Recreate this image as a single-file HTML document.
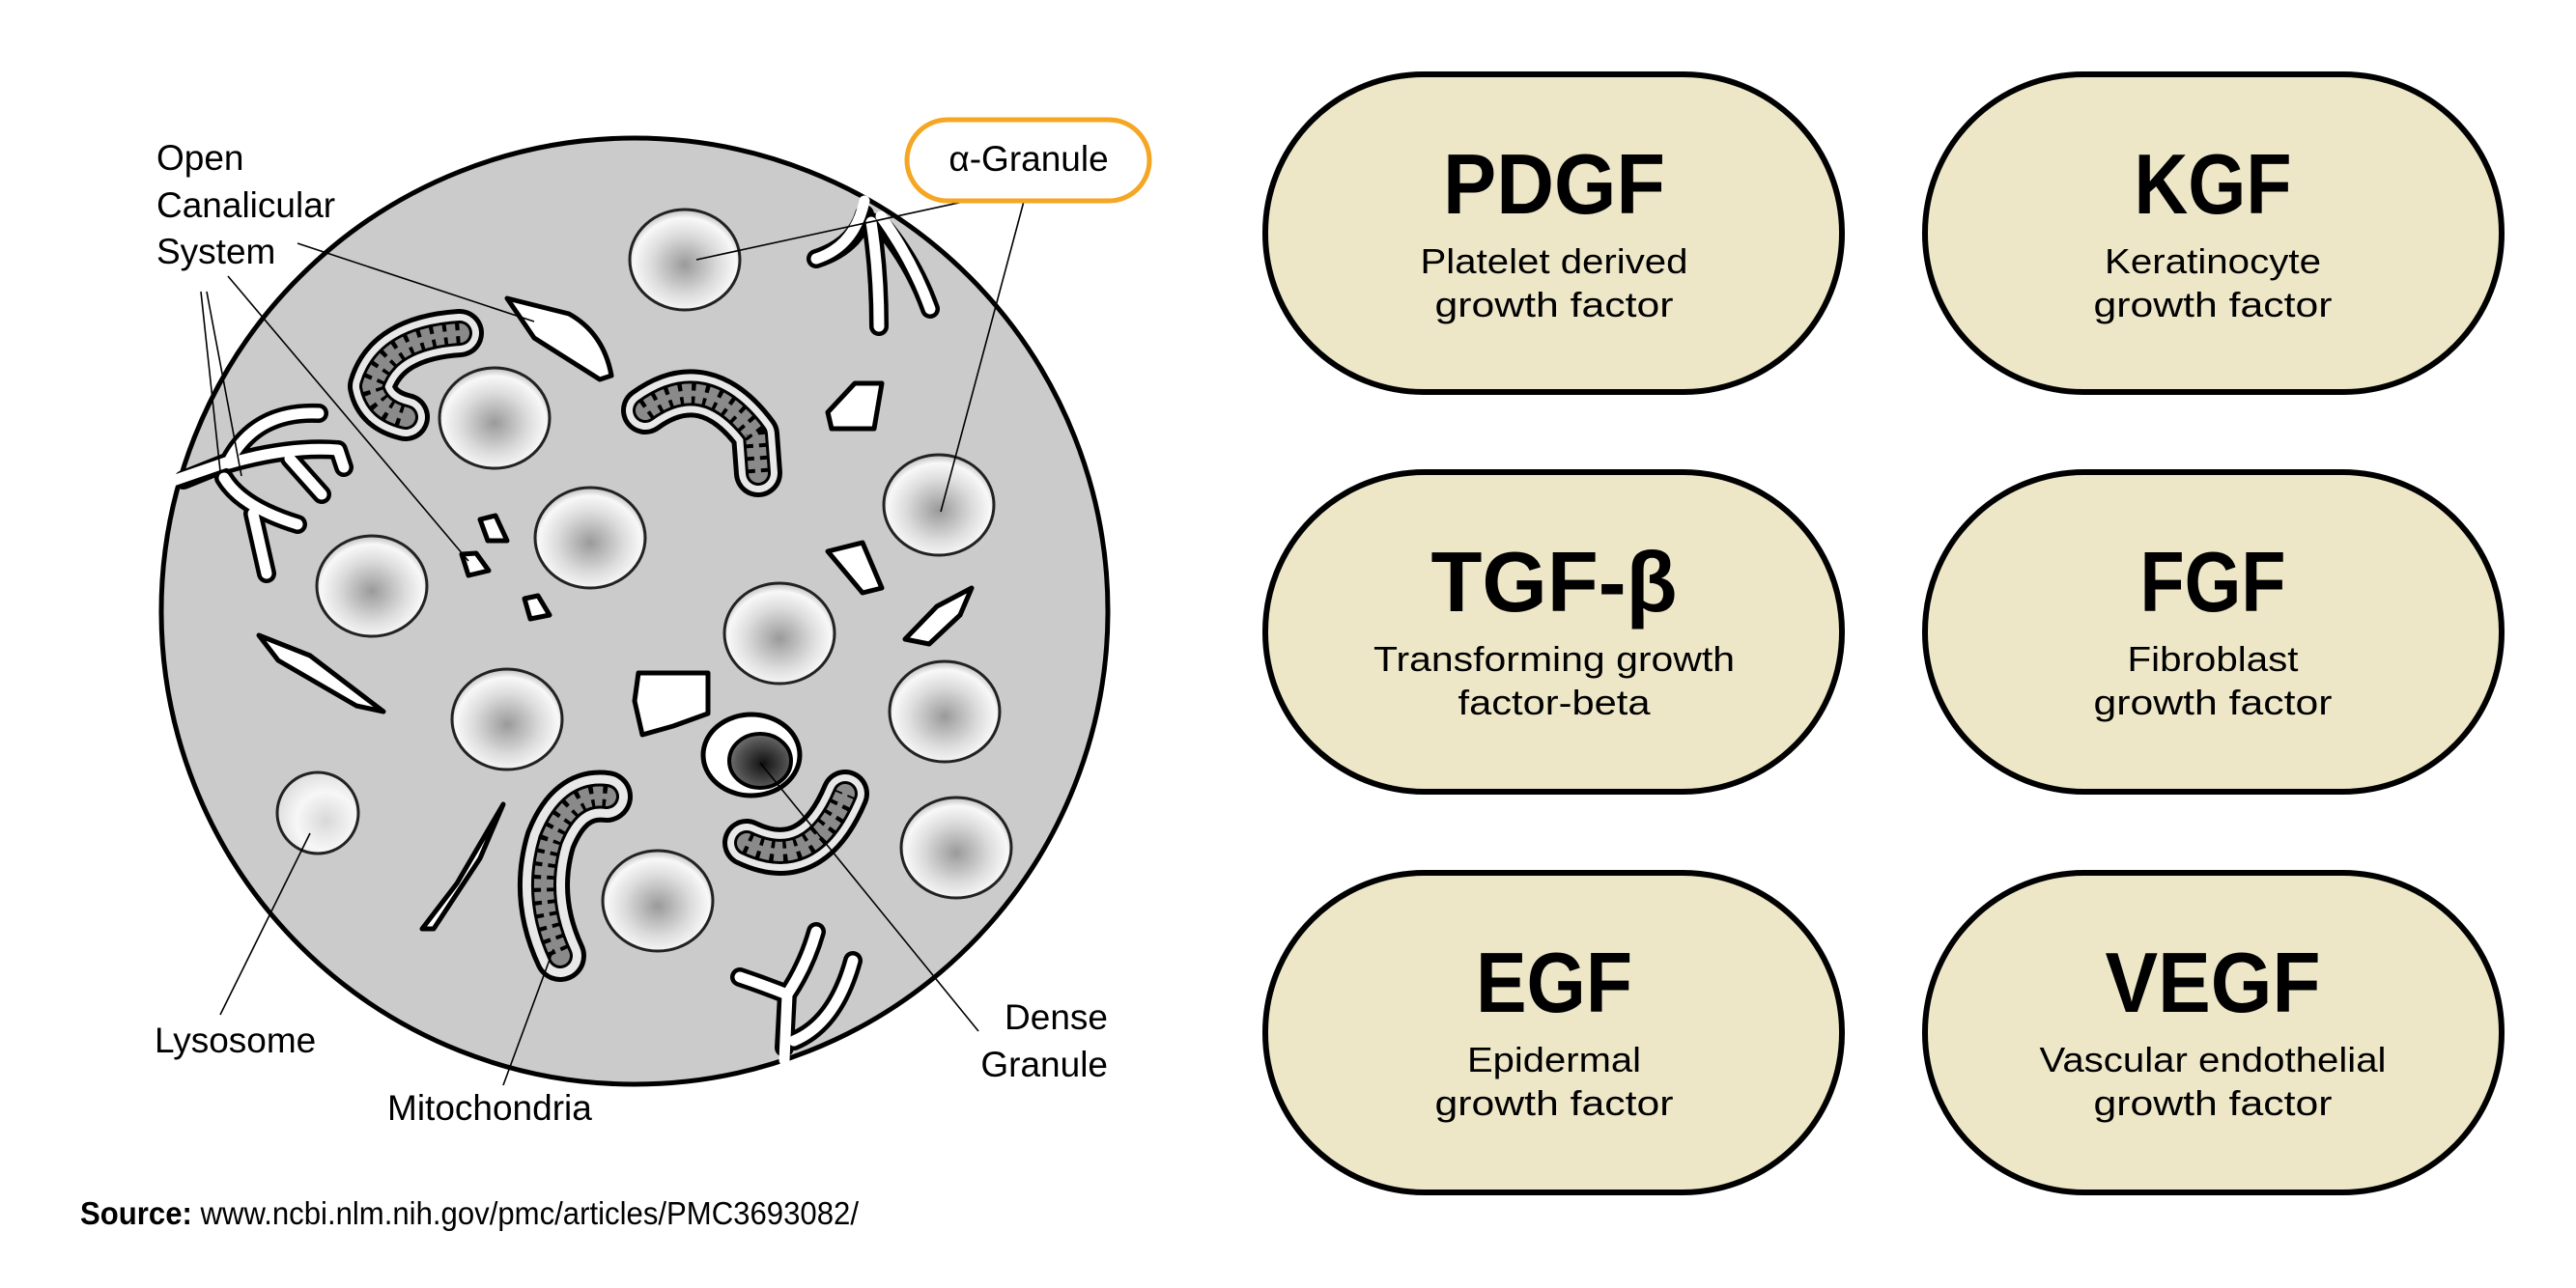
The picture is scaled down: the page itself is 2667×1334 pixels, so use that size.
<!DOCTYPE html>
<html><head><meta charset="utf-8"><style>
html,body{margin:0;padding:0;background:#fff;}
svg{display:block;}
.lab{font-family:"Liberation Sans",sans-serif;font-size:37px;fill:#000;}
.ac{font-family:"Liberation Sans",sans-serif;font-weight:bold;font-size:88px;fill:#000;text-anchor:middle;}
.sub{font-family:"Liberation Sans",sans-serif;font-size:36px;fill:#000;text-anchor:middle;}
</style></head><body>
<svg width="2667" height="1334" viewBox="0 0 2667 1334" xmlns="http://www.w3.org/2000/svg">
<defs>
<radialGradient id="g" cx="0.5" cy="0.55" r="0.55">
<stop offset="0" stop-color="#9a9a9a"/><stop offset="0.55" stop-color="#dcdcdc"/><stop offset="0.85" stop-color="#f8f8f8"/><stop offset="1" stop-color="#bdbdbd"/>
</radialGradient>
<radialGradient id="ly" cx="0.6" cy="0.6" r="0.6">
<stop offset="0" stop-color="#d8d8d8"/><stop offset="0.6" stop-color="#f7f7f7"/><stop offset="1" stop-color="#e0e0e0"/>
</radialGradient>
<radialGradient id="dk" cx="0.55" cy="0.55" r="0.6">
<stop offset="0" stop-color="#111"/><stop offset="0.7" stop-color="#555"/><stop offset="1" stop-color="#777"/>
</radialGradient>
</defs>
<circle cx="657" cy="633" r="490" fill="#cbcbcb" stroke="#000" stroke-width="5"/>

<!-- canalicular branches -->
<g fill="none" stroke-linecap="round" stroke-linejoin="round">
<g stroke="#000" stroke-width="20">
<path d="M895,222 Q885,255 845,268"/><path d="M902,230 Q910,280 910,338"/><path d="M912,232 Q945,270 963,320"/>
<path d="M190,497 L237,478 Q265,425 330,428"/><path d="M237,480 Q300,462 350,466 L356,484"/><path d="M300,475 L333,512"/><path d="M232,495 Q250,525 308,543"/><path d="M262,532 L276,594"/>
<path d="M812,1085 L815,1030 Q790,1020 766,1012"/><path d="M815,1030 Q835,1000 845,965"/><path d="M822,1078 Q865,1060 883,995"/>
</g>
<g stroke="#fff" stroke-width="11">
<path d="M895,208 Q885,255 845,268"/><path d="M902,230 Q910,280 910,338"/><path d="M912,224 Q945,270 963,320"/>
<path d="M176,499 L237,478 Q265,425 330,428"/><path d="M237,480 Q300,462 350,466 L356,484"/><path d="M300,475 L333,512"/><path d="M232,495 Q250,525 308,543"/><path d="M262,532 L276,594"/>
<path d="M812,1098 L815,1030 Q790,1020 766,1012"/><path d="M815,1030 Q835,1000 845,965"/><path d="M822,1078 Q865,1060 883,995"/>
</g>
</g>

<!-- vacuoles -->
<g fill="#fff" stroke="#000" stroke-width="5" stroke-linejoin="round">
<path d="M525,309 L589,325 Q625,345 633,389 L621,393 L553,350 Z"/>
<path d="M857,427 L885,397 L913,397 L905,444 L861,444 Z"/>
<path d="M497,538 L513,534 L525,560 L505,560 Z"/>
<path d="M478,574 L493,573 L506,591 L485,596 Z"/>
<path d="M543,620 L557,617 L569,637 L549,641 Z"/>
<path d="M857,571 L893,562 L913,609 L893,614 Z"/>
<path d="M937,662 L970,628 L1006,609 L994,637 L962,667 Z"/>
<path d="M268,658 L321,679 L397,737 L369,731 L288,684 Z"/>
<path d="M661,697 L733,697 L733,739 L697,752 L665,761 L657,726 Z"/>
<path d="M521,833 L473,915 L437,962 L449,962 L497,889 Z"/>
</g>

<!-- mitochondria -->
<g fill="none" stroke-linejoin="round">
<g stroke="#000" stroke-linecap="round">
<path d="M476,345 Q400,350 385,400 Q390,425 420,432" stroke-width="50"/>
<path d="M668,425 Q730,380 782,450 L785,490" stroke-width="50"/>
<path d="M628,825 Q590,820 570,870 Q552,930 580,990" stroke-width="54"/>
<path d="M773,873 Q840,905 875,822" stroke-width="50"/>
</g>
<g stroke="#e8e8e8" stroke-linecap="round">
<path d="M476,345 Q400,350 385,400 Q390,425 420,432" stroke-width="40"/>
<path d="M668,425 Q730,380 782,450 L785,490" stroke-width="40"/>
<path d="M628,825 Q590,820 570,870 Q552,930 580,990" stroke-width="44"/>
<path d="M773,873 Q840,905 875,822" stroke-width="40"/>
</g>
<g stroke="#000" stroke-width="26" stroke-linecap="round">
<path d="M476,345 Q400,350 385,400 Q390,425 420,432"/>
<path d="M668,425 Q730,380 782,450 L785,490"/>
<path d="M628,825 Q590,820 570,870 Q552,930 580,990"/>
<path d="M773,873 Q840,905 875,822"/>
</g>
<g stroke="#8a8a8a" stroke-width="20" stroke-linecap="round">
<path d="M476,345 Q400,350 385,400 Q390,425 420,432"/>
<path d="M668,425 Q730,380 782,450 L785,490"/>
<path d="M628,825 Q590,820 570,870 Q552,930 580,990"/>
<path d="M773,873 Q840,905 875,822"/>
</g>
<g stroke="#000" stroke-width="22" stroke-dasharray="4 9" stroke-linecap="butt">
<path d="M476,345 Q400,350 385,400 Q390,425 420,432"/>
<path d="M668,425 Q730,380 782,450 L785,490"/>
<path d="M628,825 Q590,820 570,870 Q552,930 580,990"/>
<path d="M773,873 Q840,905 875,822"/>
</g>
<g stroke="#8a8a8a" stroke-width="6" stroke-linecap="round">
<path d="M476,345 Q400,350 385,400 Q390,425 420,432"/>
<path d="M668,425 Q730,380 782,450 L785,490"/>
<path d="M628,825 Q590,820 570,870 Q552,930 580,990"/>
<path d="M773,873 Q840,905 875,822"/>
</g>
</g>

<!-- granules -->
<g fill="url(#g)" stroke="#222" stroke-width="3">
<ellipse cx="709" cy="269" rx="57" ry="52"/>
<ellipse cx="512" cy="433" rx="57" ry="52"/>
<ellipse cx="611" cy="557" rx="57" ry="52"/>
<ellipse cx="385" cy="607" rx="57" ry="52"/>
<ellipse cx="972" cy="523" rx="57" ry="52"/>
<ellipse cx="807" cy="656" rx="57" ry="52"/>
<ellipse cx="525" cy="745" rx="57" ry="52"/>
<ellipse cx="978" cy="737" rx="57" ry="52"/>
<ellipse cx="990" cy="878" rx="57" ry="52"/>
<ellipse cx="681" cy="933" rx="57" ry="52"/>
</g>
<circle cx="329" cy="842" r="42" fill="url(#ly)" stroke="#222" stroke-width="3"/>
<ellipse cx="778" cy="782" rx="50" ry="42" fill="#fff" stroke="#000" stroke-width="5"/>
<ellipse cx="787" cy="788" rx="32" ry="28" fill="url(#dk)" stroke="#000" stroke-width="4"/>

<!-- leader lines -->
<g stroke="#000" stroke-width="1.6">
<line x1="308" y1="252" x2="553" y2="333"/>
<line x1="236" y1="286" x2="485" y2="581"/>
<line x1="208" y1="302" x2="228" y2="488"/>
<line x1="214" y1="302" x2="250" y2="493"/>
<line x1="1034" y1="201" x2="721" y2="269"/>
<line x1="1062" y1="201" x2="974" y2="530"/>
<line x1="228" y1="1051" x2="321" y2="863"/>
<line x1="521" y1="1124" x2="573" y2="983"/>
<line x1="1013" y1="1068" x2="787" y2="790"/>
</g>

<!-- labels -->
<text class="lab" x="162" y="176">Open</text>
<text class="lab" x="162" y="225">Canalicular</text>
<text class="lab" x="162" y="273">System</text>
<rect x="939" y="124" width="251" height="84" rx="42" fill="#fff" stroke="#f5a623" stroke-width="5"/>
<text class="lab" x="1065" y="177" text-anchor="middle">α-Granule</text>
<text class="lab" x="160" y="1090">Lysosome</text>
<text class="lab" x="401" y="1160">Mitochondria</text>
<text class="lab" x="1147" y="1066" text-anchor="end">Dense</text>
<text class="lab" x="1147" y="1115" text-anchor="end">Granule</text>

<text x="83" y="1268" textLength="806" lengthAdjust="spacingAndGlyphs" style="font-family:'Liberation Sans',sans-serif;font-size:33px;"><tspan font-weight="bold">Source:</tspan> www.ncbi.nlm.nih.gov/pmc/articles/PMC3693082/</text>

<!-- pills -->
<g fill="#ede7c8" stroke="#000" stroke-width="6">
<rect x="1310" y="77" width="597" height="329" rx="164"/>
<rect x="1993" y="77" width="597" height="329" rx="164"/>
<rect x="1310" y="489" width="597" height="331" rx="165"/>
<rect x="1993" y="489" width="597" height="331" rx="165"/>
<rect x="1310" y="904" width="597" height="331" rx="165"/>
<rect x="1993" y="904" width="597" height="331" rx="165"/>
</g>
<text class="ac" x="1609" y="221" textLength="230" lengthAdjust="spacingAndGlyphs">PDGF</text>
<text class="sub" x="1609" y="283" textLength="277" lengthAdjust="spacingAndGlyphs">Platelet derived</text>
<text class="sub" x="1609" y="328" textLength="247" lengthAdjust="spacingAndGlyphs">growth factor</text>
<text class="ac" x="2291" y="221" textLength="163" lengthAdjust="spacingAndGlyphs">KGF</text>
<text class="sub" x="2291" y="283" textLength="224" lengthAdjust="spacingAndGlyphs">Keratinocyte</text>
<text class="sub" x="2291" y="328" textLength="247" lengthAdjust="spacingAndGlyphs">growth factor</text>
<text class="ac" x="1609" y="633" textLength="255" lengthAdjust="spacingAndGlyphs">TGF-β</text>
<text class="sub" x="1609" y="695" textLength="374" lengthAdjust="spacingAndGlyphs">Transforming growth</text>
<text class="sub" x="1609" y="740" textLength="199" lengthAdjust="spacingAndGlyphs">factor-beta</text>
<text class="ac" x="2291" y="633" textLength="151" lengthAdjust="spacingAndGlyphs">FGF</text>
<text class="sub" x="2291" y="695" textLength="177" lengthAdjust="spacingAndGlyphs">Fibroblast</text>
<text class="sub" x="2291" y="740" textLength="247" lengthAdjust="spacingAndGlyphs">growth factor</text>
<text class="ac" x="1609" y="1048" textLength="162" lengthAdjust="spacingAndGlyphs">EGF</text>
<text class="sub" x="1609" y="1110" textLength="180" lengthAdjust="spacingAndGlyphs">Epidermal</text>
<text class="sub" x="1609" y="1155" textLength="247" lengthAdjust="spacingAndGlyphs">growth factor</text>
<text class="ac" x="2291" y="1048" textLength="223" lengthAdjust="spacingAndGlyphs">VEGF</text>
<text class="sub" x="2291" y="1110" textLength="359" lengthAdjust="spacingAndGlyphs">Vascular endothelial</text>
<text class="sub" x="2291" y="1155" textLength="247" lengthAdjust="spacingAndGlyphs">growth factor</text>
</svg>
</body></html>
